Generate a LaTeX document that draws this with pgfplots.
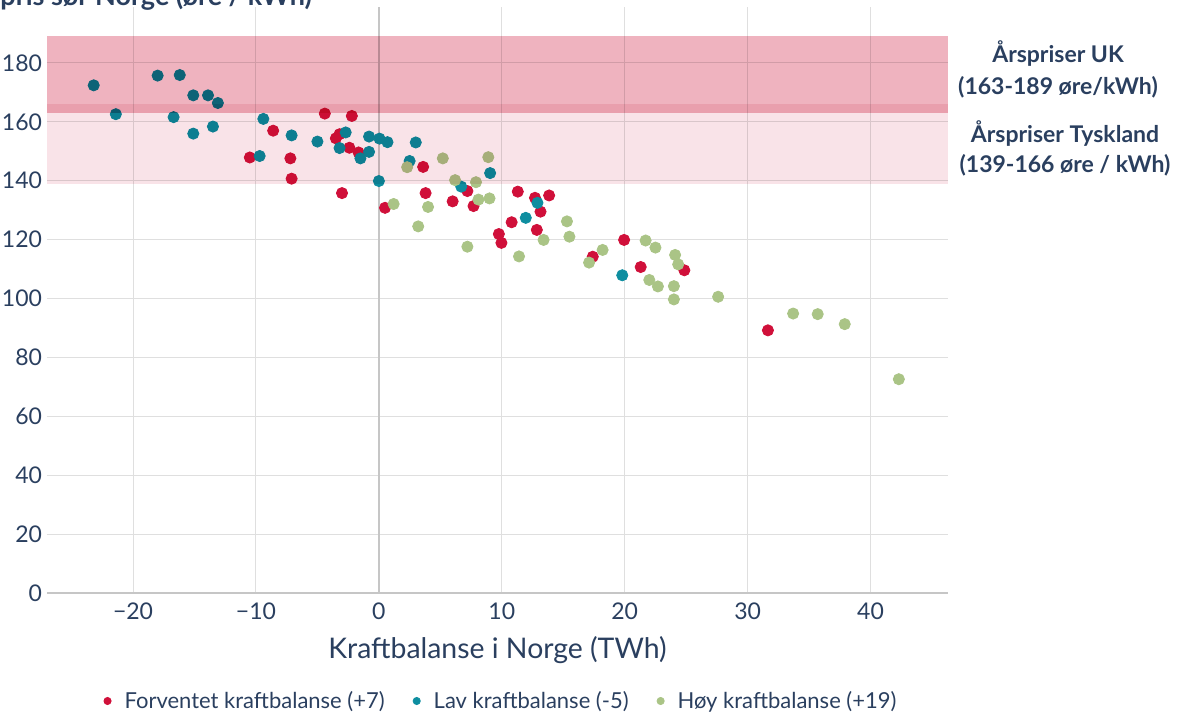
\documentclass[border=0pt]{standalone}
\usepackage{fontspec}
\setmainfont{Lato}
\usepackage{pgfplots}
\pgfplotsset{compat=1.18}
\definecolor{navy}{HTML}{2A3F5F}
\definecolor{cred}{HTML}{D0103A}
\definecolor{cteal}{HTML}{0E8EA0}
\definecolor{cgreen}{HTML}{AAC486}
\definecolor{ukband}{HTML}{EFB3BF}
\definecolor{deband}{HTML}{F9E3E8}
\definecolor{gridc}{HTML}{DFDFDF}
\definecolor{zeroc}{HTML}{C6C6C6}
\begin{document}
\begin{tikzpicture}
\begin{axis}[
  set layers,
  at={(0pt,0pt)}, anchor=south west,
  scale only axis, width=450.5pt, height=293pt,
  xmin=-27, xmax=46.3, ymin=0, ymax=199,
  clip=false,
  xtick={-20,-10,0,10,20,30,40},
  xticklabels={−20,−10,0,10,20,30,40},
  ytick={0,20,...,180},
  grid=major,
  major grid style={draw=gridc, line width=0.5pt},
  axis line style={draw=none},
  major tick length=0pt,
  tick style={draw=none},
  /pgf/number format/assume math mode=true,
  ticklabel style={font=\fontsize{11.5}{13}\selectfont, text=navy},
  xticklabel style={yshift=-1.5pt},
  yticklabel style={xshift=1pt},
  xlabel={Kraftbalanse i Norge (TWh)},
  xlabel style={font=\fontsize{14.2}{16}\selectfont, text=navy, at={(axis description cs:0.5,0)}, anchor=base, yshift=-32.5pt},
  legend columns=3,
  legend style={draw=none, fill=none, font=\fontsize{11}{13}\selectfont, text=navy,
    at={(axis description cs:0.505,0)}, anchor=center, yshift=-54pt,
    /tikz/every odd column/.append style={column sep=4.5pt},
    /tikz/every even column/.append style={column sep=12pt}},
  legend image code/.code={\fill[#1] (0pt,0pt) circle (1.8pt);},
]
\addplot[forget plot, zeroc, line width=1pt] coordinates {(-27,0) (46.3,0)};
\addplot[forget plot, zeroc, line width=1pt] coordinates {(0,0) (0,199)};

\addplot[only marks, mark=*, mark size=2.8pt, color=cred, mark options={draw=none, fill=cred}] coordinates {
(-10.5,147.9) (-8.6,157.0) (-7.2,147.6) (-7.1,140.7) (-4.4,162.8) (-2.2,162.0)
(-3.5,154.4) (-3.2,155.8) (-2.4,151.2) (-1.65,149.6) (-3.0,135.8) (3.6,144.7)
(0.5,130.8) (3.8,135.8) (7.2,136.5) (6.0,133.0) (7.7,131.4) (11.3,136.3)
(12.7,134.2) (13.85,135.0) (13.15,129.5) (10.8,125.9) (12.85,123.3) (9.76,121.9)
(9.97,118.9) (19.95,119.9) (17.4,114.2) (21.3,110.7) (24.85,109.6) (31.65,89.2)
};
\addlegendentry{Forventet kraftbalanse (+7)}

\addplot[only marks, mark=*, mark size=2.8pt, color=cteal, mark options={draw=none, fill=cteal}] coordinates {
(-23.2,172.4) (-21.4,162.6) (-18.0,175.7) (-16.2,175.9) (-15.1,169.0) (-13.9,169.0)
(-13.1,166.4) (-16.7,161.6) (-15.1,156.0) (-13.5,158.4) (-9.7,148.4) (-9.4,161.0)
(-7.1,155.4) (-5.0,153.3) (-2.7,156.4) (-3.2,151.1) (-1.5,147.6) (-0.8,155.0)
(-0.8,149.8) (0.05,154.3) (0.7,153.1) (3.0,153.0) (0.0,139.9) (2.5,146.7)
(9.05,142.6) (6.7,138.0) (12.9,132.5) (11.95,127.4) (19.8,107.9)
};
\addlegendentry{Lav kraftbalanse (-5)}

\addplot[only marks, mark=*, mark size=2.8pt, color=cgreen, mark options={draw=none, fill=cgreen}] coordinates {
(2.3,144.6) (1.2,132.1) (4.0,131.1) (5.2,147.6) (8.9,148.0) (6.2,140.2)
(7.9,139.5) (8.1,133.6) (9.0,134.0) (3.2,124.5) (7.2,117.6) (13.4,119.9)
(11.4,114.3) (15.3,126.2) (15.5,121.0) (21.7,119.7) (22.5,117.3) (18.2,116.5)
(17.1,112.2) (24.1,114.8) (24.35,111.6) (22.0,106.3) (22.7,104.1) (24.0,104.2)
(24.0,99.7) (27.6,100.6) (33.7,94.9) (35.7,94.7) (37.9,91.3) (42.3,72.6)
};
\addlegendentry{Høy kraftbalanse (+19)}

\begin{pgfonlayer}{axis foreground}
\addplot[forget plot, draw=none, fill=deband, blend mode=multiply] coordinates {(-27,139) (46.3,139) (46.3,166) (-27,166)} -- cycle;
\addplot[forget plot, draw=none, fill=ukband, blend mode=multiply] coordinates {(-27,163) (46.3,163) (46.3,189) (-27,189)} -- cycle;
\end{pgfonlayer}
\end{axis}
\node[anchor=base east, font=\bfseries\fontsize{13.5}{15}\selectfont, text=navy] at (136pt,294pt) {Strømpris sør Norge (øre / kWh)};
\node[anchor=base, font=\bfseries\fontsize{11.5}{13}\selectfont, text=navy] at (505.5pt,265.2pt) {Årspriser UK};
\node[anchor=base, font=\bfseries\fontsize{11.5}{13}\selectfont, text=navy] at (505.5pt,249.5pt) {(163-189 øre/kWh)};
\node[anchor=base, font=\bfseries\fontsize{11.5}{13}\selectfont, text=navy] at (509pt,225.5pt) {Årspriser Tyskland};
\node[anchor=base, font=\bfseries\fontsize{11.5}{13}\selectfont, text=navy] at (509pt,210.5pt) {(139-166 øre / kWh)};
\pgfresetboundingbox
\useasboundingbox (-23.5pt,-60.5pt) rectangle (570.5pt,296.5pt);
\end{tikzpicture}
\end{document}
